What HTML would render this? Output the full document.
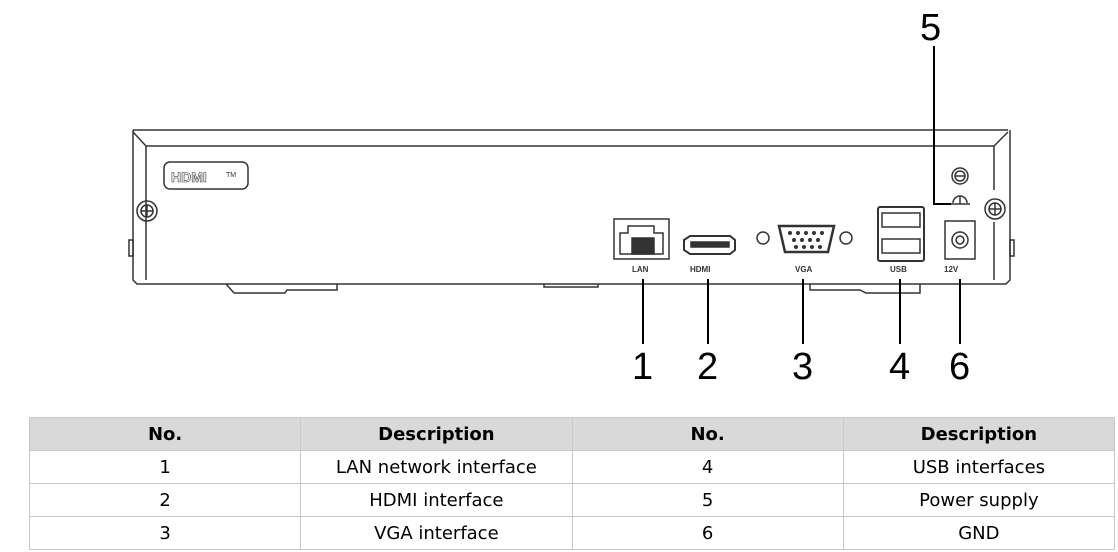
<!DOCTYPE html>
<html><head><style>
body{margin:0;width:1118px;height:552px;background:#fff;position:relative;overflow:hidden;font-family:"Liberation Sans",sans-serif}
svg{position:absolute;left:0;top:0}
table{position:absolute;left:29px;top:417px;border-collapse:collapse;font-family:"DejaVu Sans","Liberation Sans",sans-serif;font-size:18px;color:#000;table-layout:fixed;width:1086px}
td{border:1px solid #c8c8c8;text-align:center;height:32px;padding:0}
tr.h td{background:#d9d9d9;font-weight:bold}
</style></head><body>
<svg width="1118" height="552" viewBox="0 0 1118 552" fill="none" stroke="#333" stroke-width="1.5">
<path d="M133 130 H1008"/>
<path d="M133 130 V280 L137 284 H1006 L1010 280 V130"/>
<path d="M146 146 H994"/>
<path d="M133 132 L146 146 V280"/>
<path d="M1008 132 L994 146 V190 M994 222 V280"/>
<path d="M226 284 L234 293 H285 L287 290 H337 V284"/>
<path d="M544 284 V287 H598 V284"/>
<path d="M810 284 V290 H860 L866 293 H920 V284"/>
<rect x="129" y="240" width="4" height="16"/>
<rect x="1010" y="240" width="4" height="16"/>
<rect x="164" y="162" width="84" height="27" rx="6"/>
<text x="171" y="182" font-size="14" font-weight="bold" stroke="#333" stroke-width="0.6" fill="#fff" font-family="Liberation Sans">HDMI</text>
<text x="226" y="177" font-size="7" fill="#333" stroke="none">TM</text>
<circle cx="147" cy="211" r="10"/><circle cx="147" cy="211" r="6"/><path d="M141 211 H153 M147 205 V217"/>
<circle cx="995" cy="209" r="10"/><circle cx="995" cy="209" r="6"/><path d="M989 209 H1001 M995 203 V215"/>
<circle cx="960" cy="176" r="8"/><circle cx="960" cy="176" r="5"/><path d="M955 176 H965"/>
<path d="M953 203 A7 7 0 0 1 967 203 M960 196 V204 M950 204 H970"/>
<rect x="614" y="219" width="55" height="40"/>
<path d="M620 233 H628 V226 H654 V233 H663 V254 H620 Z"/>
<rect x="632" y="238" width="22" height="16" fill="#333"/>
<text x="632" y="272" font-size="8" font-weight="bold" fill="#333" stroke="none">LAN</text>
<path d="M684 240 L690 236 H730 L735 240 V250 L730 254 H690 L684 250 Z" stroke-width="2"/>
<rect x="691" y="242" width="38" height="5" fill="#333"/>
<text x="690" y="272" font-size="8" font-weight="bold" fill="#333" stroke="none">HDMI</text>
<circle cx="763" cy="238" r="6"/><circle cx="846" cy="238" r="6"/>
<path d="M779 226 H834 L828 252 H785 Z" stroke-width="2.5"/>
<g fill="#333" stroke="none"><circle cx="790" cy="233" r="2"/><circle cx="798" cy="233" r="2"/><circle cx="806" cy="233" r="2"/><circle cx="814" cy="233" r="2"/><circle cx="822" cy="233" r="2"/><circle cx="794" cy="240" r="2"/><circle cx="802" cy="240" r="2"/><circle cx="810" cy="240" r="2"/><circle cx="818" cy="240" r="2"/><circle cx="796" cy="247" r="2"/><circle cx="804" cy="247" r="2"/><circle cx="812" cy="247" r="2"/><circle cx="820" cy="247" r="2"/></g>
<text x="795" y="272" font-size="8" font-weight="bold" fill="#333" stroke="none">VGA</text>
<rect x="878" y="207" width="46" height="54" rx="2" stroke-width="2"/>
<rect x="882" y="213" width="38" height="14"/><rect x="882" y="239" width="38" height="14"/>
<text x="890" y="272" font-size="8" font-weight="bold" fill="#333" stroke="none">USB</text>
<rect x="945" y="221" width="30" height="38"/>
<circle cx="960" cy="240" r="8"/><circle cx="960" cy="240" r="4"/>
<text x="944" y="272" font-size="8" font-weight="bold" fill="#333" stroke="none">12V</text>
<g stroke="#000" stroke-width="2">
<path d="M643 279 V344 M708 279 V344 M803 279 V344 M900 279 V344 M960 279 V344"/>
<path d="M934 46 V204 H951"/>
</g>
<g fill="#000" stroke="none" font-size="38" font-family="Liberation Sans">
<text x="632" y="379">1</text><text x="697" y="379">2</text><text x="792" y="379">3</text><text x="889" y="379">4</text><text x="949" y="379">6</text><text x="920" y="40">5</text>
</g>
</svg>
<table>
<tr class="h"><td>No.</td><td>Description</td><td>No.</td><td>Description</td></tr>
<tr><td>1</td><td>LAN network interface</td><td>4</td><td>USB interfaces</td></tr>
<tr><td>2</td><td>HDMI interface</td><td>5</td><td>Power supply</td></tr>
<tr><td>3</td><td>VGA interface</td><td>6</td><td>GND</td></tr>
</table>
</body></html>
